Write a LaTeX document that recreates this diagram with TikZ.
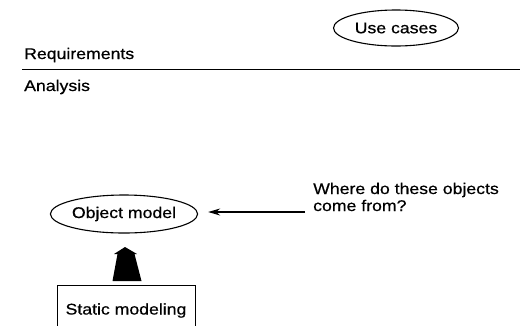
\documentclass[tikz,border=0pt]{standalone}
\usepackage{fontspec}
\setmainfont{Liberation Sans}[FakeStretch=1.14, FakeBold=0.6]
\usetikzlibrary{shapes.geometric,arrows.meta}
\begin{document}
\begin{tikzpicture}[x=1bp,y=-1bp,
  every node/.style={font=\fontsize{15.5bp}{17bp}\selectfont, inner sep=0pt},
  usecase/.style={draw, ellipse, line width=1.1bp},
  label/.style={anchor=base west},
  thinarrow/.style={line width=1.1bp, -{Stealth[length=12bp, width=7bp]}},
  stepbox/.style={draw, rectangle, line width=1bp, minimum width=138bp, minimum height=50bp}
]
\useasboundingbox (0,0) rectangle (532,325);
\clip (0,0) rectangle (532,325);

% phase boundary
\coordinate (ruleL) at (22,69.5);
\coordinate (ruleR) at (520,69.5);
\draw[line width=1.5bp] (ruleL) -- (ruleR);
\node[label] (req) at (24,59) {Requirements};
\node[label] (ana) at (24,91) {Analysis};

% models
\node[usecase, minimum width=125bp, minimum height=36bp] (uc) at (396,28) {Use cases};
\node[usecase, minimum width=147bp, minimum height=38bp] (om) at (124,214) {Object model};

% question pointing at the object model
\node[label, align=left] (q) at (313,211) {Where do these objects\\come from?};
\coordinate (qstart) at (305,212);
\draw[thinarrow, shorten >=10bp] (qstart) -- (qstart -| om.east);

% static modeling step feeding the object model
\node[stepbox, anchor=north] (sm) at (126,285) {Static modeling};
\fill (125,247) -- (137,254) -- (134.5,254) -- (141.5,281) -- (112.5,281)
      -- (117.5,254) -- (114,254) -- cycle;
\end{tikzpicture}
\end{document}
